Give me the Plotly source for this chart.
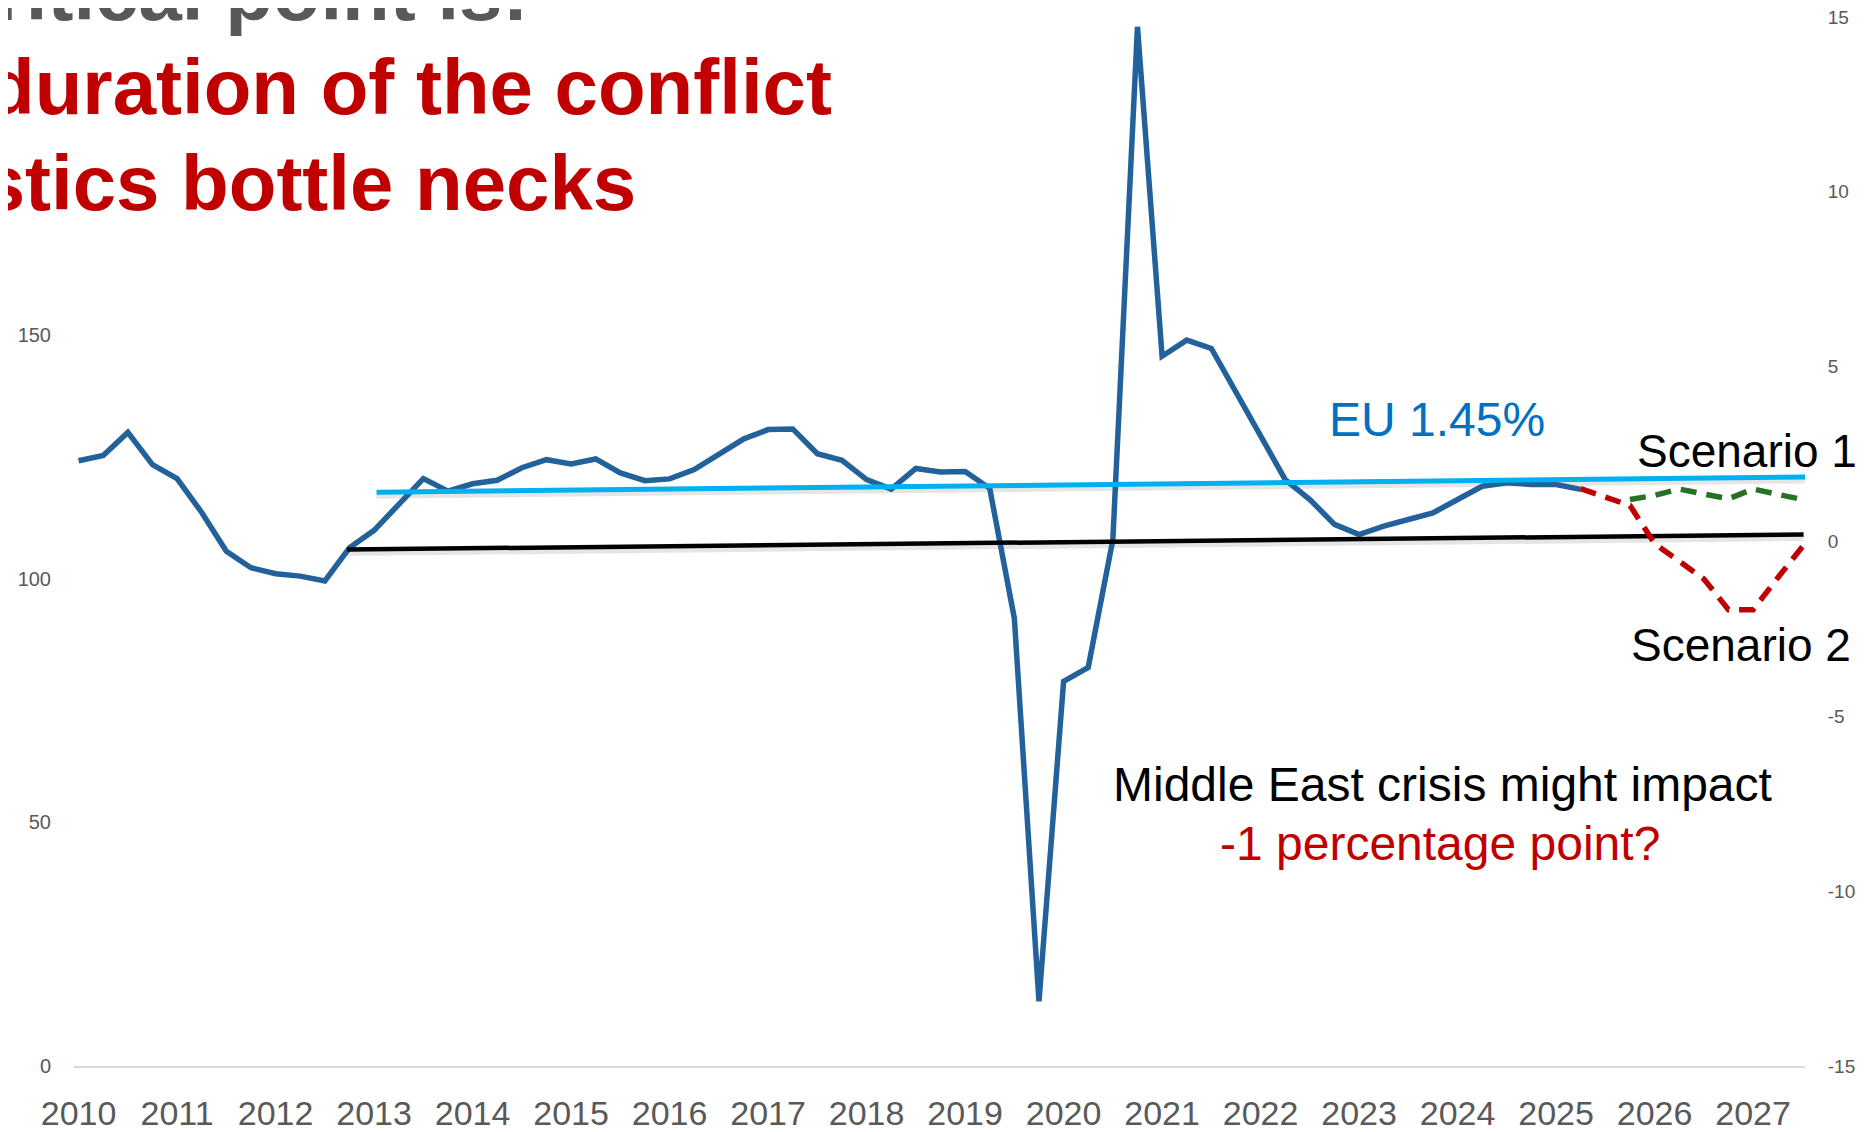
import plotly.graph_objects as go

# ---------------- data ----------------
start_year = 2010
# quarterly growth (right axis, %), first quarter = 2010 label
growth = [2.31, 2.46, 3.12, 2.20, 1.80, 0.83, -0.28, -0.75, -0.92, -0.99,
          -1.13, -0.18, 0.32, 1.06, 1.80, 1.44, 1.65, 1.75, 2.11, 2.34,
          2.22, 2.36, 1.96, 1.74, 1.79, 2.06, 2.50, 2.93, 3.20, 3.22,
          2.51, 2.32, 1.77, 1.50, 2.09, 1.99, 2.00, 1.52, -2.20, -13.15,
          -4.00, -3.60, 0.05, 14.72, 5.30, 5.76, 5.52, 4.25, 3.01, 1.77,
          1.20, 0.49, 0.20, 0.44, 0.63, 0.82, 1.20, 1.58, 1.68, 1.63,
          1.63, 1.49]
growth_q = list(range(len(growth)))

scen2_q = [61, 62, 63, 64, 65, 66, 67, 68, 69, 70]
scen2 = [1.51, 1.29, 1.03, -0.06, -0.55, -1.07, -1.95, -1.95, -1.04, -0.15]

scen1_q = [63, 64, 65, 66, 67, 68, 69, 70]
scen1 = [1.20, 1.32, 1.50, 1.35, 1.22, 1.50, 1.34, 1.20]

eu_trend_q = [12.1, 71.1]
eu_trend = [1.41, 1.85]

zero_trend_q = [10.9, 70.05]
zero_trend = [-0.23, 0.20]

years = list(range(2010, 2028))
left_ticks = [0, 50, 100, 150]
right_ticks = [-15, -10, -5, 0, 5, 10, 15]
right_labels = ["-15", "-10", "-5", "0", "5", "10", "15"]


def qx(qs):
    return [start_year + q / 4 for q in qs]


# ---------------- layout geometry (screen pixels) ----------------
SW, SH = 1868, 1132          # window
OX, OY = 8, 8                # page body offset of the figure
W, H = SW - OX, SH - OY
PL, PR, PT, PB = 74, 1805, 17, 1066   # plot area in screen pixels


def px(x):
    return (x - PL) / (PR - PL)


def py(y):
    return (PB - y) / (PB - PT)


tick_font = dict(family="Liberation Sans, Arial, sans-serif", color="#595959")

fig = go.Figure()

# invisible trace for left axis
fig.add_trace(go.Scatter(x=[], y=[], yaxis="y", showlegend=False))

# shadows
fig.add_trace(go.Scatter(x=qx(eu_trend_q), y=[v - 0.1 for v in eu_trend], yaxis="y2",
                         mode="lines", line=dict(color="rgba(0,0,0,0.10)", width=6),
                         showlegend=False, hoverinfo="skip"))
fig.add_trace(go.Scatter(x=qx(zero_trend_q), y=[v - 0.1 for v in zero_trend], yaxis="y2",
                         mode="lines", line=dict(color="rgba(0,0,0,0.10)", width=6),
                         showlegend=False, hoverinfo="skip"))

fig.add_trace(go.Scatter(x=qx(growth_q), y=growth, yaxis="y2", mode="lines",
                         line=dict(color="#23619B", width=5.5), showlegend=False))
fig.add_trace(go.Scatter(x=qx(eu_trend_q), y=eu_trend, yaxis="y2", mode="lines",
                         line=dict(color="#00B0F0", width=5), showlegend=False))
fig.add_trace(go.Scatter(x=qx(zero_trend_q), y=zero_trend, yaxis="y2", mode="lines",
                         line=dict(color="#000000", width=4.5), showlegend=False))
fig.add_trace(go.Scatter(x=qx(scen1_q), y=scen1, yaxis="y2", mode="lines",
                         line=dict(color="#267326", width=5.5, dash="16px,10px"),
                         showlegend=False))
fig.add_trace(go.Scatter(x=qx(scen2_q), y=scen2, yaxis="y2", mode="lines",
                         line=dict(color="#C00000", width=5.5, dash="16px,10px"),
                         showlegend=False))

x0 = start_year + ((PL - 78.6) / 98.5)
x1 = start_year + ((PR - 78.6) / 98.5)

fig.update_layout(
    width=W, height=H,
    margin=dict(l=PL - OX, r=SW - PR, t=PT - OY, b=SH - PB, autoexpand=False),
    paper_bgcolor="white", plot_bgcolor="white",
    showlegend=False,
    xaxis=dict(range=[x0, x1], tickvals=years, ticktext=[str(y) for y in years],
               showgrid=False, zeroline=False, showline=True, linecolor="#D9D9D9",
               linewidth=2, ticks="outside", ticklen=16, tickcolor="rgba(0,0,0,0)",
               automargin=False, ticklabeloverflow="allow",
               tickfont=dict(size=34, **tick_font)),
    yaxis=dict(range=[0, (PB - PT) / 4.873], tickvals=left_ticks,
               showgrid=False, zeroline=False, showline=False,
               ticks="outside", ticklen=18, tickcolor="rgba(0,0,0,0)",
               automargin=False, ticklabeloverflow="allow",
               tickfont=dict(size=20, **tick_font)),
    yaxis2=dict(range=[-15, 15], tickvals=right_ticks, ticktext=right_labels,
                overlaying="y", side="right",
                showgrid=False, zeroline=False, showline=False,
                ticks="outside", ticklen=18, tickcolor="rgba(0,0,0,0)",
                automargin=False, ticklabeloverflow="allow",
                tickfont=dict(size=19, **tick_font)),
)

title_font = "Liberation Sans, Arial, sans-serif"
ann = [
    dict(text="<b>critical point is:</b>", x=px(530), y=py(21 - 28), xanchor="right",
         yanchor="middle", font=dict(size=78, color="#595959", family=title_font)),
    dict(text="<b>duration of the conflict</b>", x=px(834), y=py(116 - 29), xanchor="right",
         yanchor="middle", font=dict(size=78, color="#C00000", family=title_font)),
    dict(text="<b>logistics bottle necks</b>", x=px(638), y=py(210 - 27), xanchor="right",
         yanchor="middle", font=dict(size=78, color="#C00000", family=title_font)),
    dict(text="EU 1.45%", x=px(1437), y=py(436 - 16), xanchor="center", yanchor="middle",
         font=dict(size=48, color="#0070C0", family=title_font)),
    dict(text="Scenario 1", x=px(1747), y=py(466 - 15), xanchor="center", yanchor="middle",
         font=dict(size=46, color="#000000", family=title_font)),
    dict(text="Scenario 2", x=px(1741), y=py(660 - 15), xanchor="center", yanchor="middle",
         font=dict(size=46, color="#000000", family=title_font)),
    dict(text="Middle East crisis might impact", x=px(1442), y=py(800 - 16), xanchor="center",
         yanchor="middle", font=dict(size=48, color="#000000", family=title_font)),
    dict(text="-1 percentage point?", x=px(1440), y=py(859 - 16), xanchor="center",
         yanchor="middle", font=dict(size=48, color="#C00000", family=title_font)),
]
for a in ann:
    a.update(xref="paper", yref="paper", showarrow=False)
fig.update_layout(annotations=ann)

fig.write_html("out.html")
